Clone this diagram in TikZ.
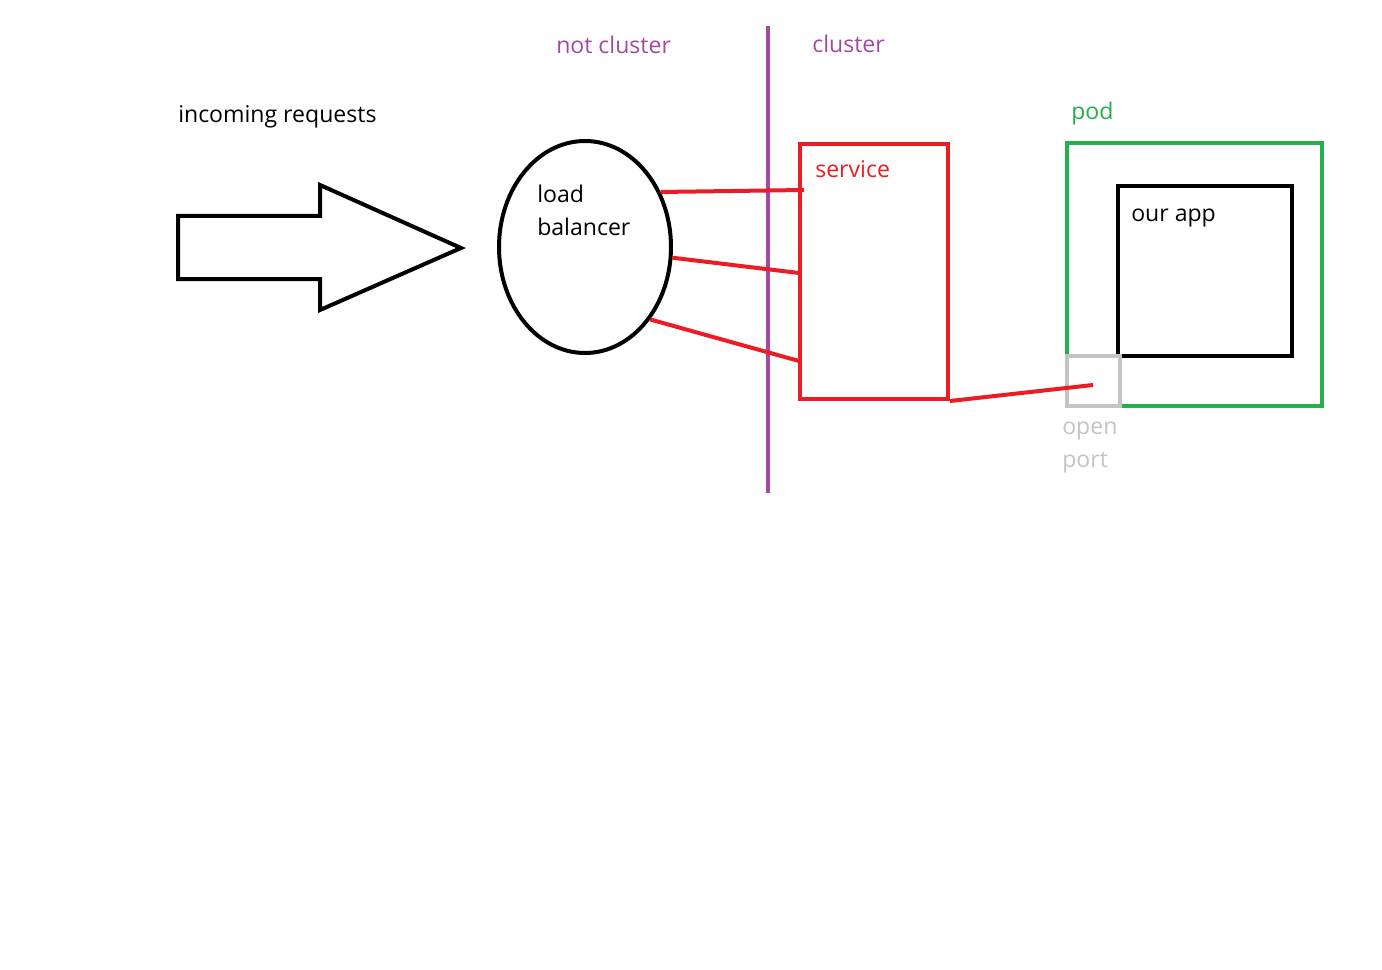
\documentclass[tikz,border=0pt]{standalone}
\usepackage{fontspec}
\setmainfont{Open Sans}
\usepackage{tikz}
\usetikzlibrary{shapes.geometric,calc,positioning}
\definecolor{pred}{RGB}{237,28,36}
\definecolor{ppurple}{RGB}{163,73,164}
\definecolor{pgreen}{RGB}{34,177,76}
\definecolor{pgray}{RGB}{195,195,195}

\begin{document}
\begin{tikzpicture}[x=0.75pt,y=-0.75pt,
	stroke/.style={line width=3pt},
	lbl/.style={inner sep=0pt,anchor=base west,font=\fontsize{17.3}{21}\selectfont},
	wire/.style={stroke,pred}]
	\useasboundingbox (0,0) rectangle (1382,970);
	% arrow of the requests
	\coordinate (a1) at(178,216);
	\coordinate (a2) at(320,216);
	\coordinate (a3) at(320,185);
	\coordinate (tip) at(461,248);
	\coordinate (a4) at(320,310);
	\coordinate (a5) at(320,279);
	\coordinate (a6) at(178,279);
	\draw[stroke] (a1)--(a2)--(a3)--(tip)--(a4)--(a5)--(a6)--cycle;
	% border of the cluster
	\coordinate (top) at(768,26);
	\coordinate (bot) at(768,493);
	\draw[stroke, ppurple] (top)--(bot);
	% load balancer and service
	\node[draw, stroke, ellipse, minimum width=129pt, minimum height=159pt] (lb) at(585,247) {};
	\node[draw, stroke, pred, minimum width=111pt, minimum height=191.25pt] (svc) at(874,271.5) {};
	\coordinate (s1) at(804,190);
	\coordinate (s2) at(799,273);
	\coordinate (s3) at(799,361);
	\draw[wire] (lb.36)--(s1);
	\draw[wire] (lb.-7)--(s2);
	\draw[wire] (lb.-48)--(s3);
	% pod with the app
	\node[draw, stroke, pgreen, minimum width=191.25pt, minimum height=197.25pt] (pod) at(1194.5,274.5) {};
	\node[draw, stroke, minimum width=130.5pt, minimum height=127.5pt] (app) at(1205,271) {};
	\node[draw, stroke, pgray, fill=white, minimum width=39.75pt, minimum height=37.5pt] (port) at(1093.5,381) {};
	\coordinate (p1) at(1093,385);
	\draw[wire] (svc.south east)--(p1);
	% labels
	\node[lbl] (inc) at(178,123) {incoming requests};
	\node[lbl, ppurple] (notcl) at(556,54) {not cluster};
	\node[lbl, ppurple] (cl) at(812,53) {cluster};
	\node[lbl] (lbt) at(537,203) {load};
	\node[lbl] (lbb) at(537,236) {balancer};
	\node[lbl, pred] (svct) at(815,178) {service};
	\node[lbl, pgreen] (podt) at(1071,120) {pod};
	\node[lbl] (appt) at(1131,222) {our app};
	\node[lbl, pgray] (opent) at(1062,434) {open};
	\node[lbl, pgray] (portt) at(1062,467) {port};
\end{tikzpicture}
\end{document}
